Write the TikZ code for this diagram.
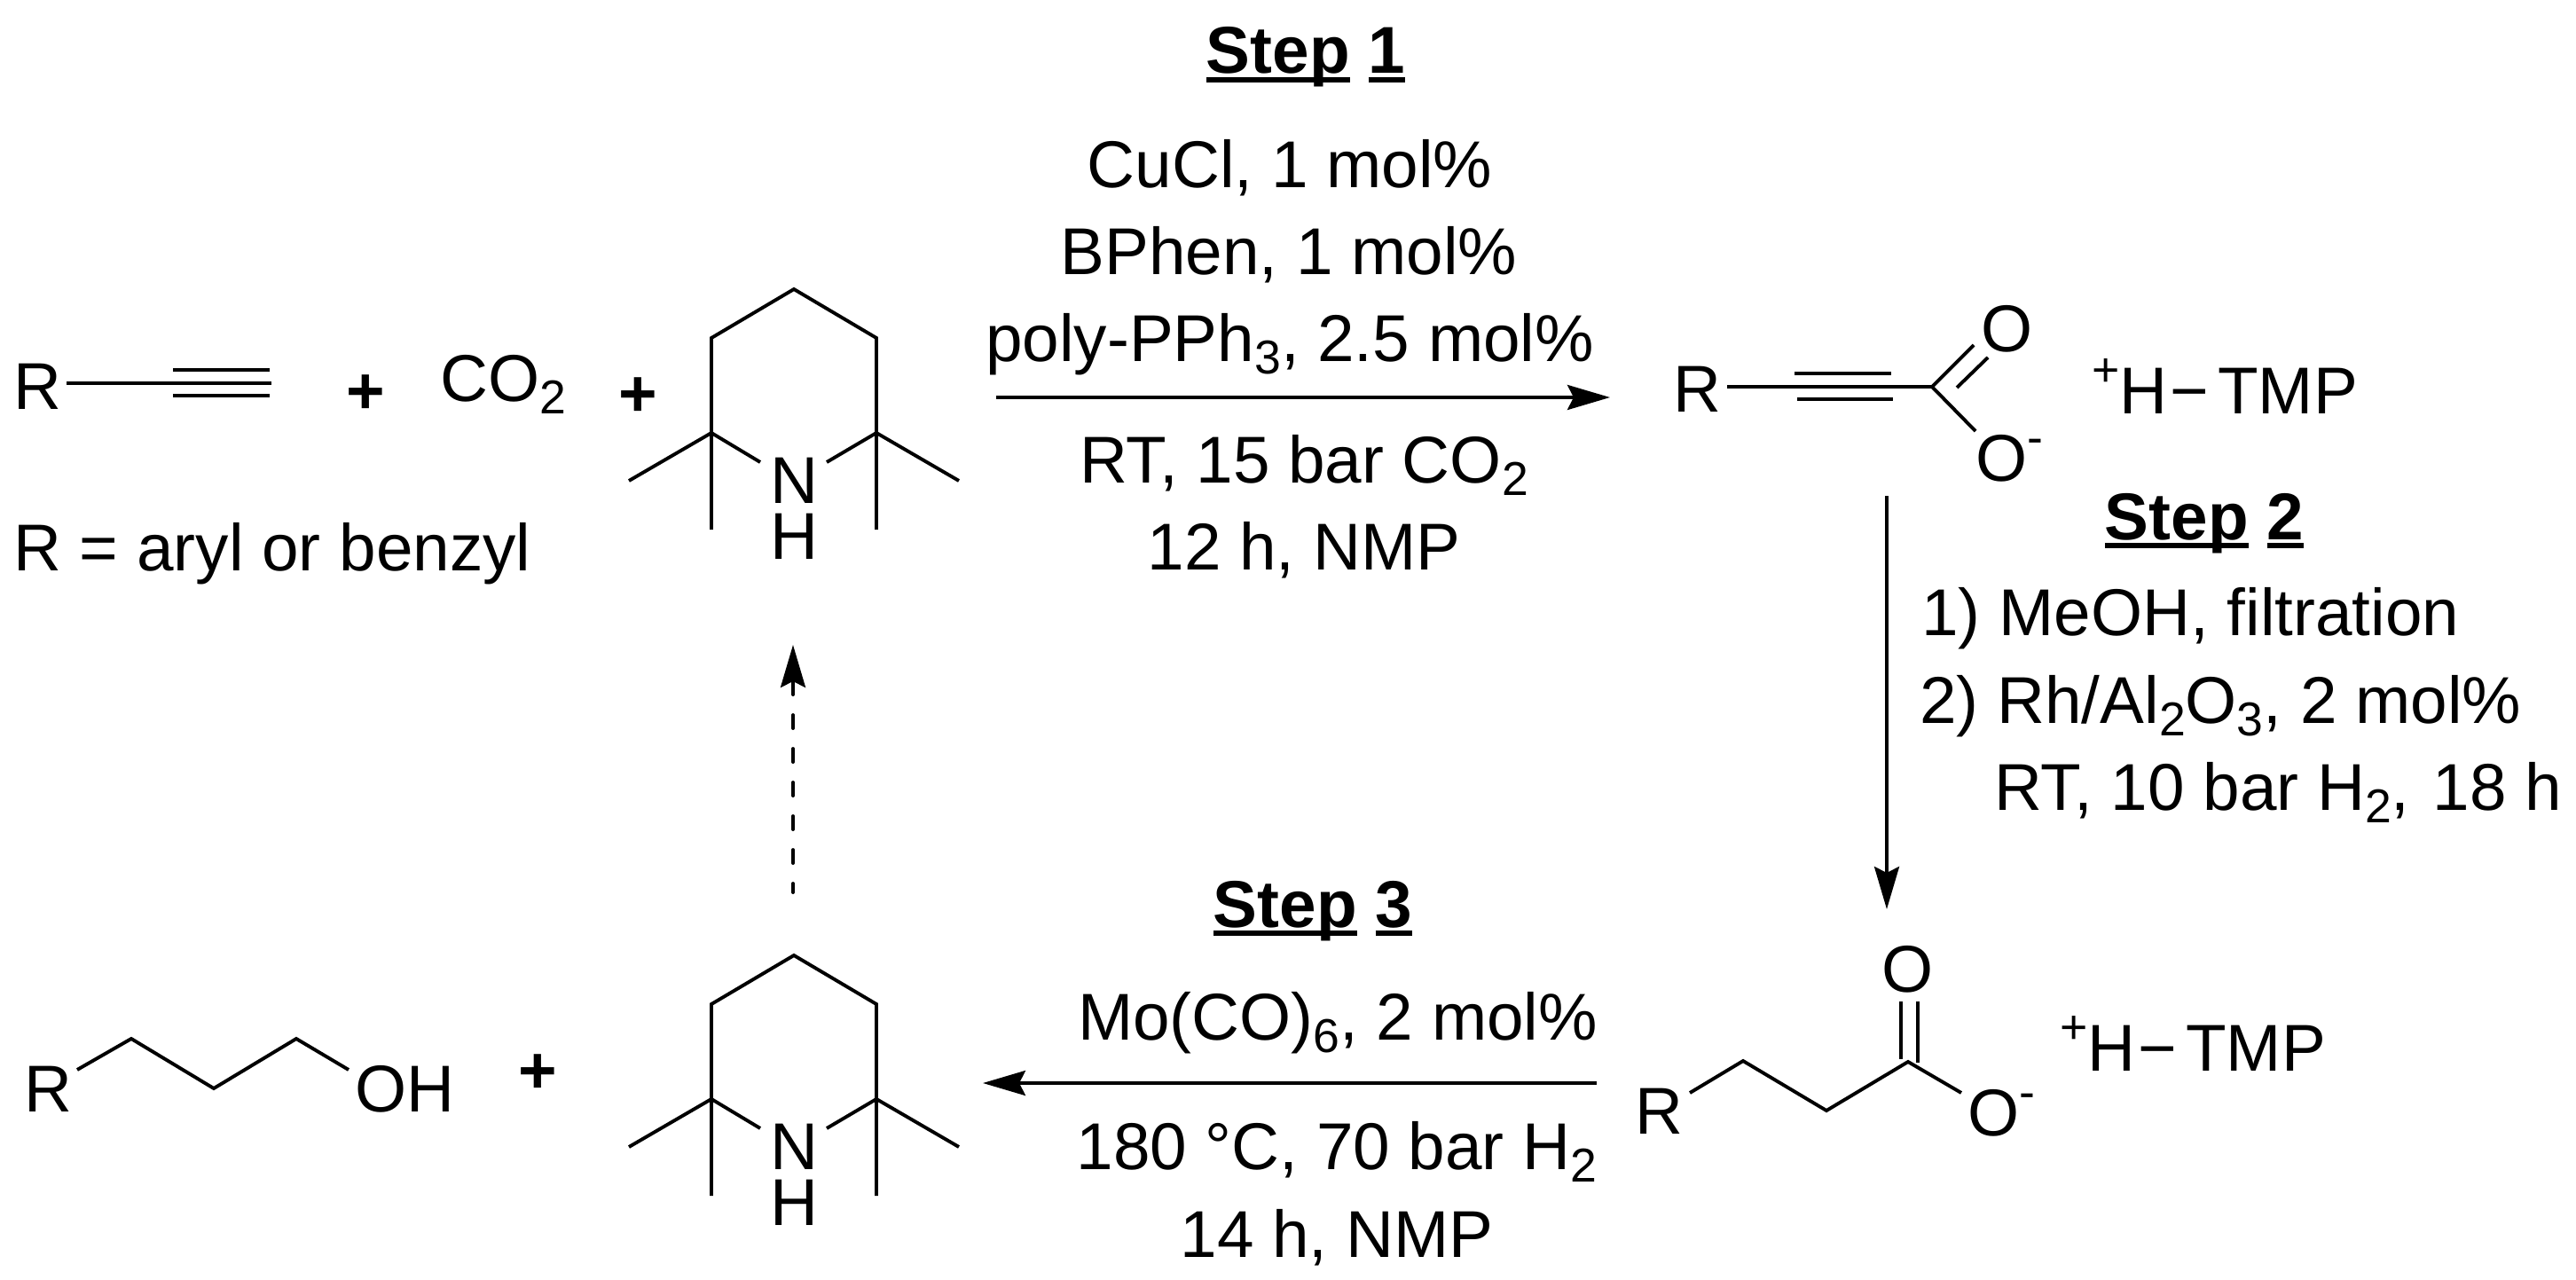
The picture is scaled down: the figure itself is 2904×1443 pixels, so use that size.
\documentclass[tikz,border=0pt]{standalone}
\usepackage{fontspec}
\setmainfont{Liberation Sans}
\usetikzlibrary{arrows.meta}

\newcommand{\rxnfont}{\fontsize{42.5}{35.8}\selectfont}
\newcommand{\sbs}[1]{\raisebox{-8.5pt}{\fontsize{30.5}{30}\selectfont #1}}
\newcommand{\spc}[1]{\raisebox{17.6pt}{\fontsize{30.5}{30}\selectfont #1}}
\newcommand{\ulword}[1]{\setbox0\hbox{#1}\rlap{\rule[-5.7pt]{\wd0}{3.4pt}}\box0\relax}
\newcommand{\steptext}[1]{\textbf{\ulword{Step} \ulword{#1}}}
\newcommand{\tmpsalt}{\spc{+}H\kern1.5pt−\kern6ptTMP}

\tikzset{
  bond/.style={line width=0.078cm},
  txt/.style={inner sep=0pt,font=\rxnfont,anchor=base},
  txtw/.style={txt,anchor=base west},
  rxn/.style={line width=0.078cm,-{Stealth[length=0.96cm,width=0.56cm,inset=0.14cm]}}
}

% piperidine ring with four methyls, #1 = name, #2 = y of the apex
\newcommand{\tmpring}[2]{
  \begin{scope}[shift={(0,#2)}]
    \draw[bond] plot coordinates {(857,195) (802,162) (802,55) (895,0) (988,55) (988,162) (932,195)};
    \draw[bond] (709,216) -- (802,162) -- (802,271);
    \draw[bond] (1081,216) -- (988,162) -- (988,271);
    \node[txt,align=center,anchor=north] (#1NH) at (895,190) {N\\H};
  \end{scope}
}

\begin{document}
\begin{tikzpicture}[x=0.02cm,y=-0.02cm]
  \useasboundingbox (0,0) rectangle (2904,1443);

  % top left, reactants
  \node[txtw] (rone) at (15,461) {R};
  \draw[bond] (75,432) -- (306,432);
  \draw[bond] (195,417) -- (304,417);
  \draw[bond] (195,446) -- (304,446);
  \node[txt] (plusa) at (412,466) {\textbf{+}};
  \node[txtw] (co) at (496,452) {CO\sbs{2}};
  \node[txt] (plusb) at (719,469) {\textbf{+}};
  \node[txtw] (rdef) at (15,643) {R = aryl or benzyl};
  \tmpring{tmpa}{326}

  % step 1
  \node[txt] (stepa) at (1472,83) {\steptext{1}};
  \node[txt] (cond1a) at (1454,211) {CuCl, 1 mol\%};
  \node[txt] (cond1b) at (1453,309) {BPhen, 1 mol\%};
  \node[txt] (cond1c) at (1454,407) {poly-PPh\sbs{3}, 2.5 mol\%};
  \node[txt] (cond1d) at (1470,544) {RT, 15 bar CO\sbs{2}};
  \node[txt] (cond1e) at (1470,642) {12 h, NMP};
  \coordinate (a1) at (1123,448);
  \coordinate (a2) at (1815,448);
  \draw[rxn] (a1) -- (a2);

  % alkynoate salt
  \node[txtw] (rtwo) at (1886,464) {R};
  \draw[bond] (1947,436) -- (2178,436);
  \draw[bond] (2023,421) -- (2132,421);
  \draw[bond] (2026,450) -- (2134,450);
  \draw[bond] (2225,389) -- (2178,436) -- (2227,486);
  \draw[bond] (2206,437) -- (2241,403);
  \node[txt] (otwo) at (2263,396) {O};
  \node[txtw] (omtwo) at (2227,542) {O\spc{-}};
  \node[txtw] (saltb) at (2358,466) {\tmpsalt};

  % step 2
  \node[txt] (stepb) at (2485,608) {\steptext{2}};
  \node[txtw] (cond2a) at (2166,716) {1) MeOH, filtration};
  \node[txtw] (cond2b) at (2164,815) {2) Rh/Al\sbs{2}O\sbs{3}, 2 mol\%};
  \node[txtw] (cond2c) at (2248,913) {RT, 10 bar H\sbs{2},\kern3pt{} 18 h};
  \coordinate (b1) at (2127,559);
  \coordinate (b2) at (2127,1025);
  \draw[rxn] (b1) -- (b2);

  % saturated salt
  \node[txtw] (rthree) at (1843,1278) {R};
  \draw[bond] plot coordinates {(1905,1232) (1965,1196) (2059,1252) (2151,1197) (2211,1232)};
  \draw[bond] (2143,1129) -- (2143,1194);
  \draw[bond] (2162,1129) -- (2162,1198);
  \node[txt] (othree) at (2151,1118) {O};
  \node[txtw] (omthree) at (2218,1280) {O\spc{-}};
  \node[txtw] (saltc) at (2322,1207) {\tmpsalt};

  % step 3
  \node[txt] (stepc) at (1480,1045) {\steptext{3}};
  \node[txt] (cond3a) at (1508,1172) {Mo(CO)\sbs{6}, 2 mol\%};
  \node[txt] (cond3b) at (1507,1318) {180 °C, 70 bar H\sbs{2}};
  \node[txt] (cond3c) at (1507,1417) {14 h, NMP};
  \coordinate (c1) at (1800,1221);
  \coordinate (c2) at (1108,1221);
  \draw[rxn] (c1) -- (c2);

  % bottom left, products
  \node[txtw] (rfour) at (27,1253) {R};
  \draw[bond] plot coordinates {(87,1206) (148,1171) (241,1227) (334,1171) (393,1206)};
  \node[txtw] (oh) at (400,1253) {OH};
  \node[txt] (plusc) at (606,1232) {\textbf{+}};
  \tmpring{tmpb}{1077}

  % recycling of the amine
  \coordinate (d1) at (894,1006);
  \coordinate (d2) at (894,727);
  \draw[rxn,line cap=round,dash pattern=on 0.3cm off 0.46cm,dash phase=0.1cm] (d1) -- (d2);
\end{tikzpicture}
\end{document}
